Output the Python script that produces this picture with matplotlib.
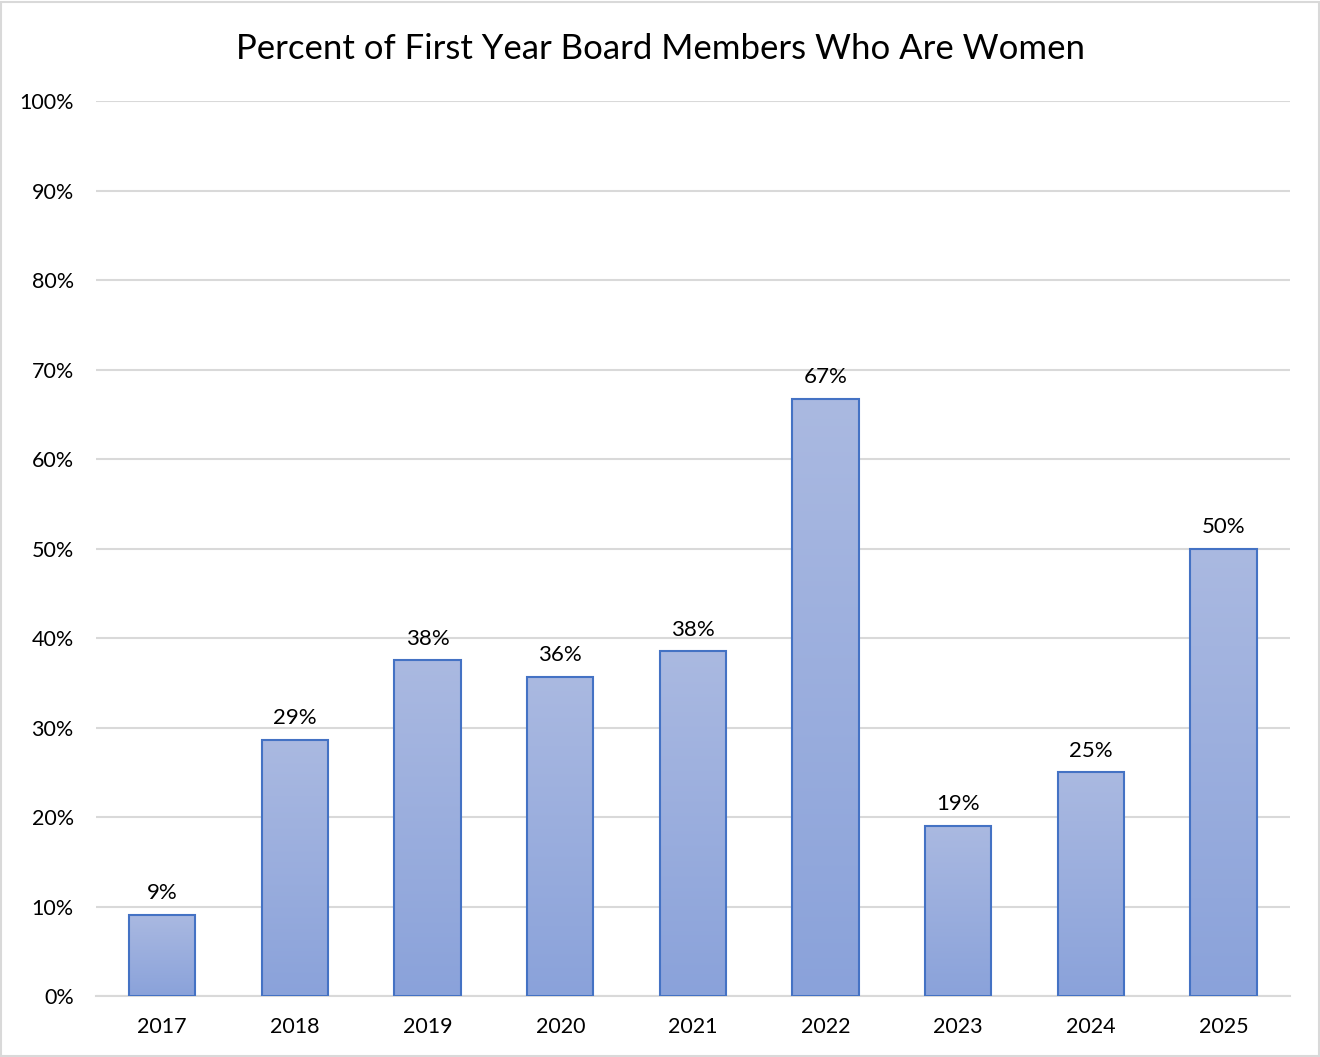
import matplotlib.pyplot as plt
from matplotlib.colors import LinearSegmentedColormap
import numpy as np

plt.rcParams['font.family'] = ['Lato', 'DejaVu Sans']

years = ['2017', '2018', '2019', '2020', '2021', '2022', '2023', '2024', '2025']
share = [0.091, 0.286, 0.375, 0.357, 0.385, 0.667, 0.19, 0.25, 0.50]
labels = ['9%', '29%', '38%', '36%', '38%', '67%', '19%', '25%', '50%']
yticks = [0, 0.1, 0.2, 0.3, 0.4, 0.5, 0.6, 0.7, 0.8, 0.9, 1.0]

fig = plt.figure(figsize=(13.2, 10.57), dpi=100)
ax = fig.add_axes([0.0727, 0.0577, 0.9045, 0.8467])

# light grey frame round the whole chart
fig.patches.append(plt.Rectangle((0.001, 0.001), 0.998, 0.997, transform=fig.transFigure,
                                 fill=False, edgecolor='#d9d9d9', linewidth=1.5))

cmap = LinearSegmentedColormap.from_list('bar', ['#8aa2da', '#aab9e1'])
grad = np.linspace(0, 1, 256).reshape(-1, 1)
x = np.arange(len(years))
w = 0.5
bars = ax.bar(x, share, width=w, facecolor='none', edgecolor='#4472c4', linewidth=1.5, zorder=3)
for b in bars:
    x0, h = b.get_x(), b.get_height()
    ax.imshow(grad, cmap=cmap, origin='lower', aspect='auto',
              extent=(x0, x0 + b.get_width(), 0, h), zorder=2)

for xi, v, t in zip(x, share, labels):
    ax.text(xi, v + 0.013, t, ha='center', va='bottom', fontsize=16, color='#000000')

ax.set_xlim(-0.5, len(years) - 0.5)
ax.set_ylim(0, 1.0)
ax.set_yticks(yticks)
ax.set_yticklabels([f'{int(round(t * 100))}%' for t in yticks])
ax.set_xticks(x)
ax.set_xticklabels(years)
ax.tick_params(axis='both', length=0, labelsize=15.5, colors='#000000')
ax.tick_params(axis='y', pad=16)
ax.tick_params(axis='x', pad=15)
ax.grid(axis='y', color='#d9d9d9', linewidth=1.5, zorder=0)
ax.set_axisbelow(True)
for s in ['top', 'right', 'left']:
    ax.spines[s].set_visible(False)
ax.spines['bottom'].set_color('#d9d9d9')
ax.spines['bottom'].set_linewidth(1.5)

fig.text(0.5, 0.954, 'Percent of First Year Board Members Who Are Women',
         ha='center', va='center', fontsize=25, color='#000000')

fig.savefig('out.png', dpi=100)
